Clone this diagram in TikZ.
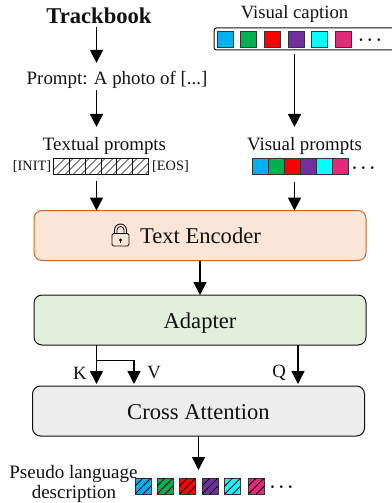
\documentclass[tikz,border=0pt]{standalone}
\usepackage{fontspec}
\setmainfont{Liberation Serif}
\usetikzlibrary{arrows.meta}
\definecolor{cblue}{HTML}{00B0F0}
\definecolor{cgreen}{HTML}{00B050}
\definecolor{cred}{HTML}{FF0000}
\definecolor{cpurple}{HTML}{7030A0}
\definecolor{ccyan}{HTML}{00FFFF}
\definecolor{cpink}{HTML}{E32A7A}
\definecolor{encfill}{HTML}{FBE5D6}
\definecolor{encline}{HTML}{C8692C}
\definecolor{adafill}{HTML}{E2EFDA}
\definecolor{crossfill}{HTML}{EDEDED}
\definecolor{ink}{HTML}{111111}
\newcommand{\fs}[1]{\fontsize{#1}{#1}\selectfont}
\tikzset{
  x=1pt,y=-1pt,
  arr/.style={line width=1.5pt,-{Triangle[width=13pt,length=13pt]}},
  txt/.style={inner sep=0pt,outer sep=0pt,align=center,text=ink},
  blockbox/.style={draw,line width=1pt,rounded corners=8pt,minimum width=332pt,minimum height=50pt,inner sep=0pt,outer sep=0pt,text=ink,font=\fs{22.6},text height=20pt,text depth=4pt},
  cell/.style={draw=#1,line width=0.8pt,minimum width=15.8pt,minimum height=16pt,inner sep=0pt,outer sep=0pt,anchor=north west},
  fillcell/.style={draw=black!80,line width=0.9pt,fill=#1,minimum size=16pt,inner sep=0pt,outer sep=0pt,anchor=north west},
  dotsnode/.style={inner sep=0pt,outer sep=0pt,text=ink,font=\fs{18}\boldmath},
}
\newcommand{\hatchcell}[4]{% x, y, colour, name
  \node[fillcell=#3] (#4) at (#1,#2) {};
  \begin{scope}
    \clip (#4.north west) rectangle (#4.south east);
    \foreach \k in {-16,-8,0,8,16}
      \draw[line width=0.8pt,black] ([xshift=\k pt]#4.south west) -- ([xshift=\k pt]#4.north east);
  \end{scope}
}
\begin{document}
\begin{tikzpicture}
\useasboundingbox (0,0) rectangle (391,503);
% column guides
\coordinate (xL) at (96.5,0);
\coordinate (xR) at (294.5,0);
\coordinate (xV) at (134,0);
\coordinate (xQ) at (298,0);
\coordinate (xM) at (200,0);
\coordinate (xC) at (198.5,0);
\coordinate (yBranch) at (0,360.5);

% titles
\node[txt,font=\fs{22.6}\bfseries] (track) at (99,16) {Trackbook};
\node[txt,font=\fs{18.7}] (vcap) at (294.5,14) {Visual caption};
\node[txt,font=\fs{18.9}] (prompt) at (117,79.5) {Prompt: A photo of [...]};
\node[txt,font=\fs{18.9}] (tprompt) at (104.5,145.5) {Textual prompts};
\node[txt,font=\fs{18.9}] (vprompt) at (304.5,145.5) {Visual prompts};

% visual caption bar
\draw[line width=1pt,rounded corners=2.5pt,fill=white,draw=ink] (214,28) rectangle (400,50);
\coordinate (barS) at (294.5,50);
\foreach \n/\c/\x in {a/cblue/217,b/cgreen/240.7,c/cred/264.4,d/cpurple/288.1,e/ccyan/311.8,f/cpink/335.5}
  \node[fillcell=\c] (bar\n) at (\x,31) {};
\node[dotsnode] (bardots) at (370,40.5) {$\cdots$};

% hatched textual prompt
\foreach \n/\x in {a/53.5,b/69.3,c/85.1,d/100.9,e/116.7,f/132.5}
  \node[cell=ink] (h\n) at (\x,158) {};
\begin{scope}
  \clip (ha.north west) rectangle (hf.south east);
  \foreach \k in {0,8,...,96}
    \draw[line width=0.7pt,ink] (\k+53.5-4,174) -- (\k+53.5+12,158);
\end{scope}
\node[txt,font=\fs{14.3}] (init) at (32,166) {[INIT]};
\node[txt,font=\fs{14.3}] (eos) at (170.5,166) {[EOS]};

% visual prompts cells
\foreach \n/\c/\x in {a/cblue/252,b/cgreen/268,c/cred/284,d/cpurple/300,e/ccyan/316,f/cpink/332}
  \node[fillcell=\c] (vp\n) at (\x,158) {};
\node[dotsnode] (vpdots) at (363.5,168.5) {$\cdots$};

% blocks
\node[blockbox,draw=encline,fill=encfill] (enc) at (200,235.5) {};
\node[txt,font=\fs{22.6},text height=20pt,text depth=4pt] (enctext) at (200.5,235.5) {Text Encoder};
\node[blockbox,draw=ink,fill=adafill] (ada) at (200,320) {Adapter};
\node[blockbox,draw=ink,fill=crossfill] (cross) at (198.5,411) {Cross Attention};

% lock icon
\coordinate (lockc) at (120.5,240);
\draw[line width=0.9pt,draw=ink,rounded corners=1.5pt] (112,233.5) rectangle (129,246);
\draw[line width=0.9pt,draw=ink] (114.5,233.5) -- (114.5,230) arc[start angle=180,end angle=360,radius=6] -- (126.5,233.5);
\draw[line width=0.8pt,draw=ink] (117,233.5) -- (117,230) arc[start angle=180,end angle=360,radius=3.5] -- (124,233.5);
\fill[ink] (lockc) circle (1.6);
\draw[line width=0.9pt,ink] (lockc) -- +(0,3.2);

% connectors
\draw[arr] ([yshift=-3pt]track.south -| xL) -- ([yshift=8pt]prompt.north -| xL);
\draw[arr] ([yshift=-2pt]prompt.south -| xL) -- ([yshift=10pt]tprompt.north -| xL);
\draw[arr] ([yshift=-4pt]barS -| xR) -- ([yshift=10pt]vprompt.north -| xR);
\draw[arr] ([yshift=-7pt]hc.south -| xL) -- (enc.north -| xL);
\draw[arr] ([yshift=-8pt]vpc.south -| xR) -- (enc.north -| xR);
\draw[arr] (enc.south -| xM) -- (ada.north -| xM);
\draw[arr] (ada.south -| xL) -- ([yshift=2pt]cross.north -| xL);
\draw[line width=1.2pt] (yBranch -| xL) -- (yBranch -| xV);
\draw[arr] ([yshift=0.6pt]yBranch -| xV) -- ([yshift=2pt]cross.north -| xV);
\draw[arr] (ada.south -| xQ) -- ([yshift=2pt]cross.north -| xQ);

\node[txt,font=\fs{18.7}] (k) at (80,373) {K};
\node[txt,font=\fs{18.7}] (v) at (154,373) {V};
\node[txt,font=\fs{18.7}] (q) at (279,373) {Q};

% output
\hatchcell{135}{478}{cblue}{oa}
\hatchcell{157}{478}{cgreen}{ob}
\hatchcell{179.5}{478}{cred}{oc}
\hatchcell{202}{478}{cpurple}{od}
\hatchcell{224.7}{478}{ccyan}{oe}
\hatchcell{248.3}{478}{cpink}{of}
\node[dotsnode] (odots) at (281.5,487.5) {$\cdots$};
\draw[arr] (cross.south -| xC) -- ([yshift=8pt]od.north -| xC);
\node[txt,font=\fs{19}] (pseudo) at (73.5,473.5) {Pseudo language};
\node[txt,font=\fs{19}] (desc) at (74,493.5) {description};
\end{tikzpicture}
\end{document}
